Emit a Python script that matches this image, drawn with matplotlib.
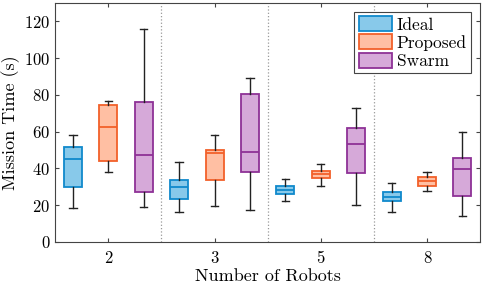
import matplotlib
matplotlib.use("Agg")
import matplotlib.pyplot as plt
from matplotlib.patches import Patch

plt.rcParams['font.family'] = 'cmr10'
plt.rcParams['axes.formatter.use_mathtext'] = True
plt.rcParams['mathtext.fontset'] = 'cm'

robots = ['2', '3', '5', '8']
methods = ['Ideal', 'Proposed', 'Swarm']

# per method: [low whisker, q1, median, q3, high whisker] for each robot count
ideal = [[18.2, 30.0, 45.0, 51.6, 58.1],
         [16.2, 23.4, 30.0, 33.6, 43.6],
         [22.1, 25.8, 28.5, 30.3, 34.0],
         [16.2, 22.0, 24.7, 27.1, 32.0]]
proposed = [[37.8, 44.1, 62.3, 74.3, 76.8],
            [19.4, 33.6, 48.1, 49.9, 58.1],
            [30.3, 34.5, 36.7, 38.5, 42.3],
            [27.6, 30.3, 33.0, 35.4, 37.9]]
swarm = [[18.9, 27.2, 47.4, 76.3, 115.6],
         [17.2, 38.1, 48.8, 80.2, 89.1],
         [20.3, 37.6, 53.2, 61.9, 73.0],
         [14.0, 24.9, 39.4, 45.8, 59.9]]

edge_colors = ['#1089cc', '#f2602a', '#8e3196']
face_colors = ['#88c9ea', '#ffbfa3', '#d6a9d9']

fig, ax = plt.subplots(figsize=(4.84, 2.87), dpi=100)
fig.subplots_adjust(left=0.114, right=0.992, bottom=0.157, top=0.99)

offsets = [-1/3, 0, 1/3]
for k, data in enumerate([ideal, proposed, swarm]):
    stats = []
    for vals in data:
        lo, q1, med, q3, hi = vals
        stats.append(dict(whislo=lo, q1=q1, med=med, q3=q3, whishi=hi, fliers=[]))
    pos = [i + 1 + offsets[k] for i in range(len(robots))]
    ax.bxp(stats, positions=pos, widths=0.17, patch_artist=True, showfliers=False,
           boxprops=dict(facecolor=face_colors[k], edgecolor=edge_colors[k], linewidth=1.3),
           medianprops=dict(color=edge_colors[k], linewidth=1.3),
           whiskerprops=dict(color='#222222', linewidth=1.0),
           capprops=dict(color='#222222', linewidth=1.0),
           capwidths=0.07)

for i in range(len(robots) - 1):
    ax.axvline(i + 1.5, color='#999999', linestyle=':', linewidth=0.9)

ax.set_xlim(0.5, len(robots) + 0.5)
ax.set_ylim(0, 130)
ax.set_xticks(range(1, len(robots) + 1))
ax.set_xticklabels(robots)
ax.set_yticks(range(0, 121, 20))
ax.tick_params(direction='in', top=True, right=True, labelsize=12, length=3,
               color='#444444')
ax.tick_params(axis='x', pad=6)
for s in ax.spines.values():
    s.set_color('#444444')
    s.set_linewidth(0.8)
ax.set_xlabel('Number of Robots', fontsize=13, labelpad=2)
ax.set_ylabel('Mission Time (s)', fontsize=13, labelpad=3)

handles = [Patch(facecolor=face_colors[k], edgecolor=edge_colors[k], linewidth=1.3)
           for k in range(3)]
leg = ax.legend(handles, methods, loc='upper right', fontsize=12.5, fancybox=False,
                edgecolor='#444444', framealpha=1, handlelength=1.9, handleheight=0.95,
                borderpad=0.25, labelspacing=0.1, handletextpad=0.3, borderaxespad=0,
                bbox_to_anchor=(0.979, 0.962))
leg.get_frame().set_linewidth(0.8)

fig.savefig('out.png', dpi=100)
